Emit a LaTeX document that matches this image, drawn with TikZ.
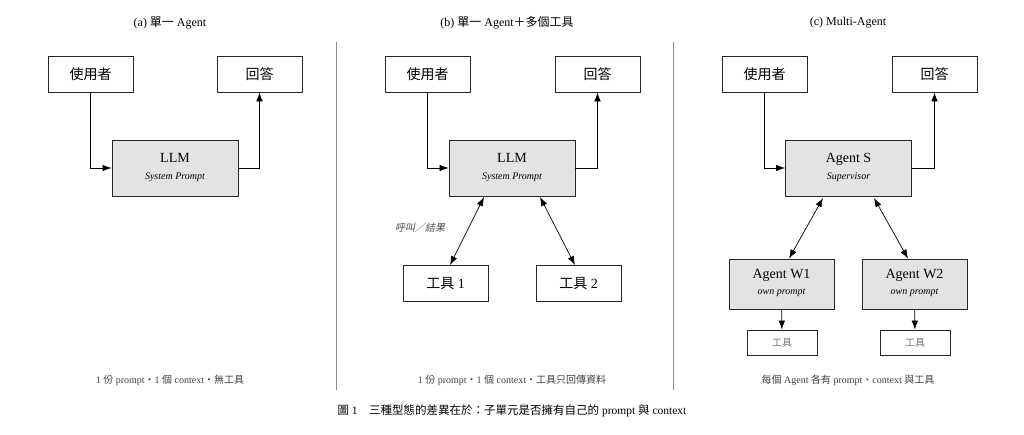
\documentclass[tikz,border=0pt]{standalone}
\usepackage{fontspec}
\setmainfont{Liberation Serif}
\newfontfamily\cjk{Noto Sans CJK TC}
\usetikzlibrary{arrows.meta}
\begin{document}
\begin{tikzpicture}[x=1pt,y=-1pt,
 box/.style={draw=black!85,line width=0.8pt,minimum width=85pt,minimum height=36pt,inner sep=0pt,font=\fontsize{14}{15}\selectfont},
 core/.style={box,fill=black!11,minimum width=126pt,minimum height=56pt},
 wbox/.style={box,fill=black!11,minimum width=105pt,minimum height=50pt},
 tbox/.style={box,minimum width=70pt,minimum height=25pt,font=\fontsize{10}{11}\selectfont\color{black!55}},
 arr/.style={-{Latex[length=9pt,width=6.5pt]},line width=0.7pt},
 darr/.style={{Latex[length=9pt,width=6.5pt]}-{Latex[length=9pt,width=6.5pt]},line width=0.7pt},
 ttl/.style={font=\fontsize{12}{13}\selectfont},
 capt/.style={font=\fontsize{10}{11}\selectfont\color{black!75}}]
\useasboundingbox (0,0) rectangle (1024,435);
\draw[black!45,line width=0.5pt] (336,42) -- (336,390) (673,42) -- (673,390);
% (a)
\node[ttl] (ta) at (170,23) {(a) {\cjk 單一} Agent};
\node[box] (ua) at (90.5,74) {\cjk 使用者};
\node[box] (ra) at (259.5,74) {\cjk 回答};
\node[core] (la) at (175,168) {\begin{tabular}{c}\fontsize{14}{15}\selectfont LLM\\[2pt]{\fontsize{10}{11}\selectfont\itshape System Prompt}\end{tabular}};
\draw[arr] (ua.south) |- (la.west);
\draw[arr] (la.east) -| (ra.south);
\node[capt] (ca) at (170,380) {1 {\cjk 份} prompt{\cjk ・}1 {\cjk 個} context{\cjk ・無工具}};
% (b)
\node[ttl] (tb) at (507,23) {(b) {\cjk 單一} Agent{\cjk ＋多個工具}};
\node[box] (ub) at (427.5,74) {\cjk 使用者};
\node[box] (rb) at (597.5,74) {\cjk 回答};
\node[core] (lb) at (512,168) {\begin{tabular}{c}\fontsize{14}{15}\selectfont LLM\\[2pt]{\fontsize{10}{11}\selectfont\itshape System Prompt}\end{tabular}};
\draw[arr] (ub.south) |- (lb.west);
\draw[arr] (lb.east) -| (rb.south);
\node[box] (t1) at (445.5,283.5) {{\cjk 工具} 1};
\node[box] (t2) at (578.5,283.5) {{\cjk 工具} 2};
\coordinate (b1) at (484,197); \coordinate (b2) at (540,197);
\draw[darr] (b1) -- (t1.north -| 450,0);
\draw[darr] (b2) -- (t2.north -| 575,0);
\node[font=\fontsize{10}{11}\selectfont\cjk,color=black!70,xslant=0.2] (lab) at (421,228) {呼叫／結果};
\node[capt] (cb) at (512,380) {1 {\cjk 份} prompt{\cjk ・}1 {\cjk 個} context{\cjk ・工具只回傳資料}};
% (c)
\node[ttl] (tc) at (848,23) {(c) Multi-Agent};
\node[box] (uc) at (764.5,74) {\cjk 使用者};
\node[box] (rc) at (934.5,74) {\cjk 回答};
\node[core] (sc) at (848.5,168) {\begin{tabular}{c}\fontsize{14}{15}\selectfont Agent S\\[2pt]{\fontsize{10}{11}\selectfont\itshape Supervisor}\end{tabular}};
\draw[arr] (uc.south) |- (sc.west);
\draw[arr] (sc.east) -| (rc.south);
\node[wbox] (w1) at (781.5,284) {\begin{tabular}{c}\fontsize{14}{15}\selectfont Agent W1\\[1pt]{\fontsize{10}{11}\selectfont\itshape own prompt}\end{tabular}};
\node[wbox] (w2) at (914.5,284) {\begin{tabular}{c}\fontsize{14}{15}\selectfont Agent W2\\[1pt]{\fontsize{10}{11}\selectfont\itshape own prompt}\end{tabular}};
\coordinate (s1) at (823,198); \coordinate (s2) at (874,198);
\draw[darr] (s1) -- (w1.north -| 789,0);
\draw[darr] (s2) -- (w2.north -| 908,0);
\node[tbox] (x1) at (782,342.5) {\cjk 工具};
\node[tbox] (x2) at (915,342.5) {\cjk 工具};
\draw[arr] (w1) -- (x1);
\draw[arr] (w2) -- (x2);
\node[capt] (cc) at (848,380) {{\cjk 每個} Agent {\cjk 各有} prompt{\cjk 、}context {\cjk 與工具}};
% caption
\node[font=\fontsize{11.5}{13}\selectfont] (fig) at (512,411) {{\cjk 圖} 1\quad{\cjk 三種型態的差異在於：子單元是否擁有自己的} prompt {\cjk 與} context};
\end{tikzpicture}
\end{document}
